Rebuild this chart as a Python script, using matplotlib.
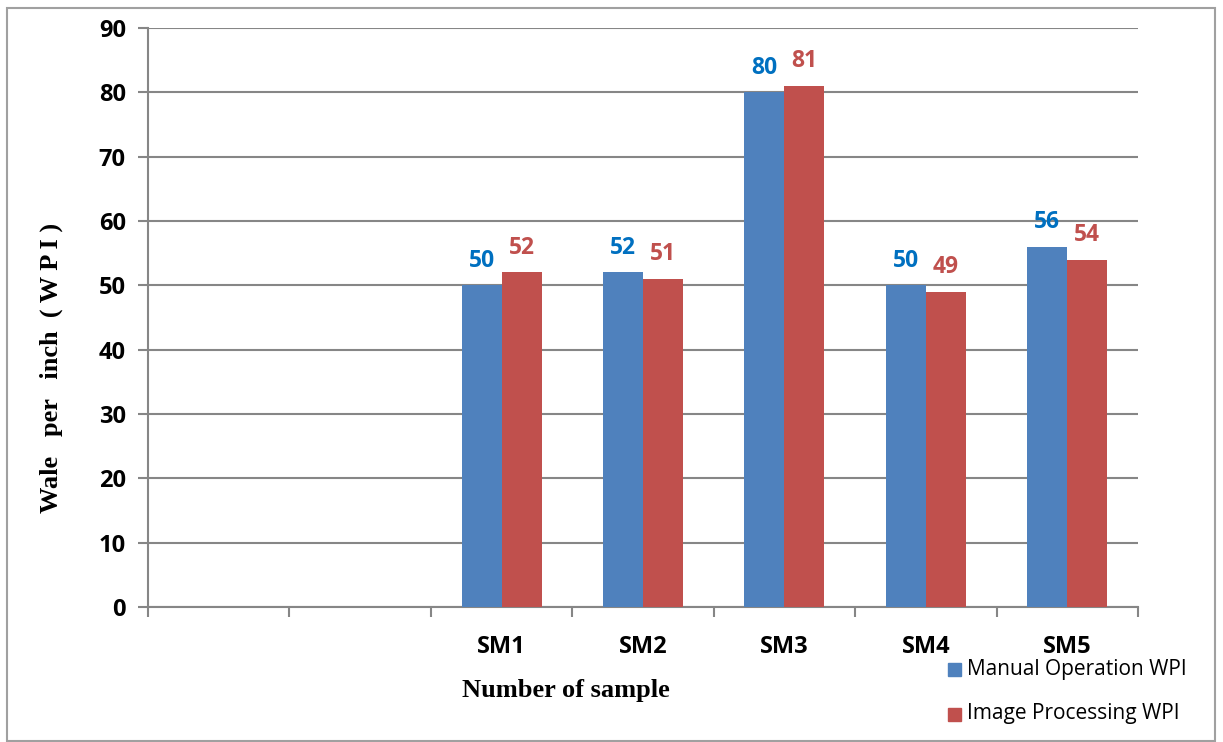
import matplotlib.pyplot as plt
from matplotlib.patches import Rectangle

# data
categories = ['', '', 'SM1', 'SM2', 'SM3', 'SM4', 'SM5']
manual_wpi = [None, None, 50, 52, 80, 50, 56]
image_wpi = [None, None, 52, 51, 81, 49, 54]
yticks = [0, 10, 20, 30, 40, 50, 60, 70, 80, 90]

blue = '#4F81BD'
red = '#C0504D'
grid_c = '#868686'
tick_font = 'Open Sans'

fig = plt.figure(figsize=(12.23, 7.42), dpi=100)
ax = fig.add_axes([0.121, 0.182, 0.8095, 0.7803])

w = 0.283
x = list(range(len(categories)))
for i in x:
    if manual_wpi[i] is None:
        continue
    ax.bar(i - w / 2, manual_wpi[i], width=w, color=blue, zorder=3)
    ax.bar(i + w / 2, image_wpi[i], width=w, color=red, zorder=3)
    ax.annotate(str(manual_wpi[i]), (i - w / 2, manual_wpi[i]), xytext=(0, 9),
                textcoords='offset points', ha='center', va='bottom',
                color='#0070C0', fontsize=16.5, fontweight='bold', family=tick_font)
    ax.annotate(str(image_wpi[i]), (i + w / 2, image_wpi[i]), xytext=(0, 9),
                textcoords='offset points', ha='center', va='bottom',
                color=red, fontsize=16.5, fontweight='bold', family=tick_font)

ax.set_xlim(-0.5, len(categories) - 0.5)
ax.set_ylim(0, 90)
ax.set_yticks(yticks)
ax.set_yticklabels([str(t) for t in yticks], fontsize=17, fontweight='bold', family=tick_font)
ax.yaxis.grid(True, color=grid_c, linewidth=1.5, zorder=0)
ax.set_axisbelow(True)

# ticks on category boundaries, labels on centers
ax.set_xticks([i - 0.5 for i in range(len(categories) + 1)])
ax.set_xticklabels([])
ax.set_xticks(x, minor=True)
ax.set_xticklabels(categories, minor=True, fontsize=17, fontweight='bold', family=tick_font)
ax.tick_params(axis='x', which='minor', length=0, pad=20)
ax.tick_params(axis='x', which='major', length=7, width=1.5, color=grid_c, direction='out')
ax.tick_params(axis='y', length=7, width=1.5, color=grid_c, direction='out', pad=9)

for s in ['top', 'right']:
    ax.spines[s].set_visible(False)
for s in ['left', 'bottom']:
    ax.spines[s].set_color(grid_c)
    ax.spines[s].set_linewidth(1.5)

fig.text(0.042, 0.504, 'Wale   per   inch  ( W P I )', rotation=90, ha='center', va='center',
         fontsize=19, fontweight='bold', family='Liberation Serif')
fig.text(0.463, 0.07, 'Number of sample', ha='center', va='center',
         fontsize=19, fontweight='bold', family='Liberation Serif')

# legend
fig.patches.append(Rectangle((948 / 1223, 1 - 676 / 742), 13 / 1223, 13 / 742,
                             transform=fig.transFigure, color=blue))
fig.patches.append(Rectangle((948 / 1223, 1 - 721 / 742), 13 / 1223, 13 / 742,
                             transform=fig.transFigure, color=red))
fig.text(967 / 1223, 1 - 670 / 742, 'Manual Operation WPI', ha='left', va='center',
         fontsize=15, family=tick_font)
fig.text(967 / 1223, 1 - 714 / 742, 'Image Processing WPI', ha='left', va='center',
         fontsize=15, family=tick_font)

# outer frame
fig.patches.append(Rectangle((7 / 1223, 1 / 742), 1208 / 1223, 733 / 742,
                             transform=fig.transFigure, fill=False,
                             edgecolor='#A0A0A0', linewidth=1.5))

fig.savefig('out.png', dpi=100)
